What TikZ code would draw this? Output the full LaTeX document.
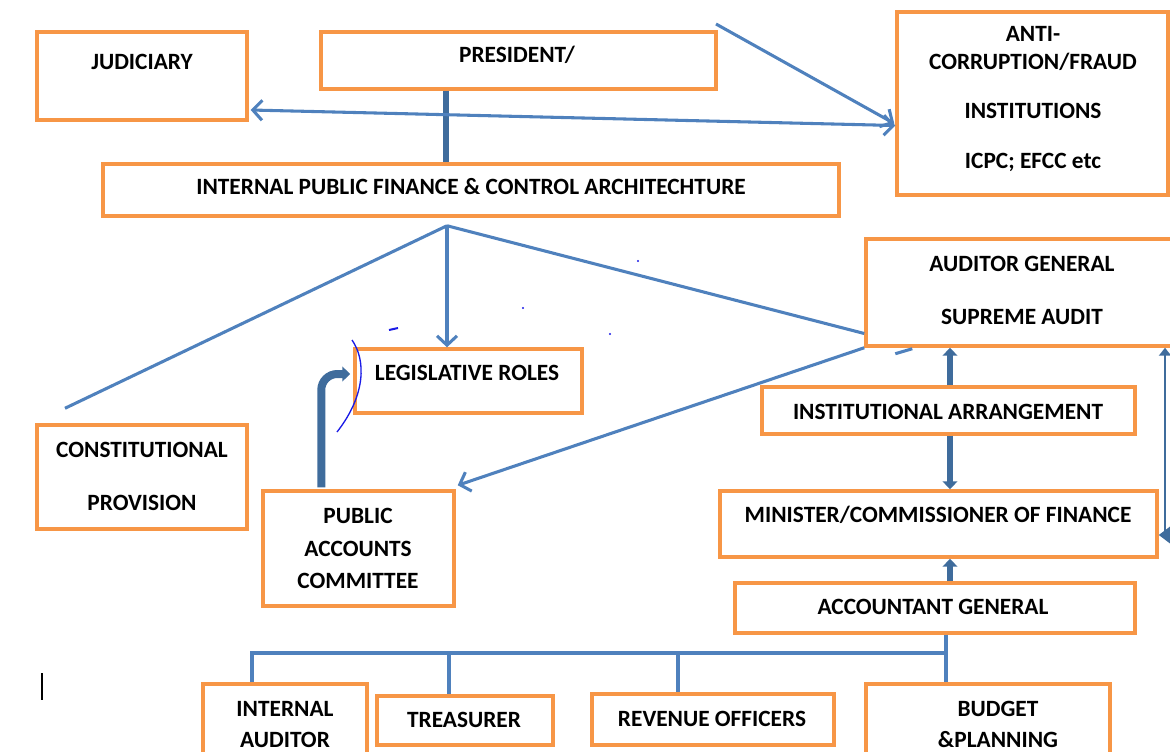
\documentclass[tikz,border=0pt]{standalone}
\usepackage{fontspec}
\setmainfont{Carlito}
\usetikzlibrary{arrows.meta, positioning, calc}
\definecolor{naranja}{HTML}{F79646}
\definecolor{azul}{HTML}{4F81BD}
\definecolor{azuloscuro}{HTML}{3F6C9C}
\definecolor{tinta}{HTML}{1A1AE6}
\tikzstyle{caja} = [draw=naranja, line width=2.6pt, fill=white, rectangle, inner sep=0pt]
\tikzstyle{rotulo} = [font=\fontsize{17.5}{21}\selectfont\bfseries, align=center, inner sep=0pt]
\tikzstyle{linea} = [draw=azul, line width=2.3pt]
\tikzstyle{punta} = [-{Straight Barb[length=7pt,width=15pt]}]
\tikzstyle{doble} = [{Straight Barb[length=7pt,width=15pt]}-{Straight Barb[length=7pt,width=15pt]}]
\tikzstyle{gruesa} = [draw=azuloscuro, line width=5pt]
\tikzstyle{cabeza} = [-{Triangle[length=6pt,width=11pt]}]

\begin{document}
\begin{tikzpicture}[x=0.75pt, y=-0.75pt]
	\clip (0,0) rectangle (1170,751);
	% cajas
	\node[caja, minimum width=157.5pt, minimum height=66pt] (jud) at (142,76) {};
	\node[caja, minimum width=296.25pt, minimum height=42.75pt] (pres) at (518.5,60.5) {};
	\node[caja, minimum width=203.25pt, minimum height=137.25pt] (anti) at (1032.5,103.5) {};
	\node[caja, minimum width=552pt, minimum height=39pt] (ipfc) at (471,190) {};
	\node[caja, minimum width=235.5pt, minimum height=80.25pt] (ag) at (1023,292.5) {};
	\node[caja, minimum width=170.25pt, minimum height=48pt] (leg) at (468.5,381) {};
	\node[caja, minimum width=157.5pt, minimum height=78pt] (const) at (142,477) {};
	\node[caja, minimum width=143.25pt, minimum height=86.25pt] (pac) at (358.5,548.5) {};
	\node[caja, minimum width=279.75pt, minimum height=35.25pt] (inst) at (948.5,410.5) {};
	\node[caja, minimum width=327.75pt, minimum height=49.5pt] (mini) at (938.5,524) {};
	\node[caja, minimum width=300pt, minimum height=37.5pt] (acct) at (935,608) {};
	\node[caja, minimum width=123pt, minimum height=64.5pt] (intaud) at (285,727) {};
	\node[caja, minimum width=132pt, minimum height=36.75pt] (treas) at (465,720.5) {};
	\node[caja, minimum width=181.5pt, minimum height=38.25pt] (rev) at (713,719.5) {};
	\node[caja, minimum width=183pt, minimum height=64.5pt] (budg) at (988,727) {};

	% textos
	\node[rotulo] (judt) at (142,62) {JUDICIARY};
	\node[rotulo] (prest) at (517,55) {PRESIDENT/};
	\node[rotulo] (antit) at (1033,99) {ANTI-\\CORRUPTION/FRAUD\\[16pt]INSTITUTIONS\\[16pt]ICPC; EFCC etc};
	\node[rotulo] (ipfct) at (471,187) {INTERNAL PUBLIC FINANCE \& CONTROL ARCHITECHTURE};
	\node[rotulo] (agt) at (1022,290.5) {AUDITOR GENERAL\\[18.75pt]SUPREME AUDIT};
	\node[rotulo] (legt) at (467,373) {LEGISLATIVE ROLES};
	\node[rotulo] (constt) at (142,476.5) {CONSTITUTIONAL\\[18.75pt]PROVISION};
	\node[rotulo] (pact) at (358,548.5) {PUBLIC\\[3.5pt]ACCOUNTS\\[3.5pt]COMMITTEE};
	\node[rotulo] (instt) at (948,412) {INSTITUTIONAL ARRANGEMENT};
	\node[rotulo] (minit) at (938,515) {MINISTER/COMMISSIONER OF FINANCE};
	\node[rotulo] (acctt) at (933,607) {ACCOUNTANT GENERAL};
	\node[rotulo] (intaudt) at (285,724.5) {INTERNAL\\[2.25pt]AUDITOR};
	\node[rotulo] (treast) at (464,720) {TREASURER};
	\node[rotulo] (revt) at (712,719) {REVENUE OFFICERS};
	\node[rotulo] (budgt) at (998,724.5) {BUDGET\\[2.25pt]\&PLANNING};

	% puntos auxiliares
	\coordinate (inicio) at (716,24);
	\coordinate (abanico) at ($(ipfc.south)+(-24,8)$);
	\coordinate (eje) at (950,0);
	\coordinate (borde) at (1165,0);
	\coordinate (tronco) at (946,0);
	\coordinate (barra) at (0,653);

	% conexiones
	\draw[gruesa] ($(pres.south)+(-72.5,0)$) -- ($(ipfc.north)+(-25,0)$);
	\draw[linea, doble] ($(jud.east)+(2,34)$) -- ($(anti.west)+(0,22)$);
	\draw[linea, punta] (inicio) -- ($(anti.west)+(-1,20)$);
	\draw[linea] (abanico) -- ($(const.north)+(-77,-15)$);
	\draw[linea, punta] (abanico) -- (leg.north -| abanico);
	\draw[linea] (abanico) -- ($(ag.west)+(0,41)$);
	\draw[linea, punta] (ag.south west) -- ($(pac.north east)+(2,-4)$);
	\draw[linea] ($(ag.south west)+(31,6)$) -- ($(ag.south west)+(48,1)$);
	\draw[gruesa, cabeza, line width=6pt, rounded corners=12] ($(pac.north west)+(60,-2)$) |- ($(leg.west)+(-3,-7)$);
	\draw[gruesa, cabeza] (inst.north -| eje) -- (ag.south -| eje);
	\draw[gruesa, cabeza] (inst.south -| eje) -- (mini.north -| eje);
	\draw[gruesa, cabeza] (acct.north -| eje) -- (mini.south -| eje);
	\draw[gruesa, line width=2pt, {Triangle[length=9pt,width=13pt]}-{Triangle[length=6pt,width=9pt]}] ($(mini.east)+(0,11)$) -| (ag.south -| borde);
	\draw[linea] (acct.south -| tronco) -- (budg.north -| tronco);
	\draw[linea] (intaud.north -| 252,0) -- (252,0 |- barra) -- (tronco |- barra);
	\foreach \n/\x in {treas/449, rev/678}
		\draw[linea] (\x,0 |- barra) -- (\n.north -| \x,0);

	% marcas sueltas
	\draw[black, line width=1.5pt] (42,673) -- (42,700);
	\draw[tinta, line width=1pt] (352,340) .. controls (366,360) and (366,395) .. (337,432);
	\draw[tinta, line width=1.5pt] (389,330) -- (398,328);
	\foreach \p in {(523,308), (610,334), (638,261)}
		\fill[tinta] \p circle (1.2);
\end{tikzpicture}
\end{document}
